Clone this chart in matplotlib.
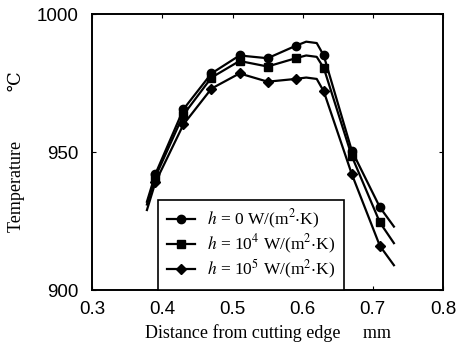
import matplotlib
matplotlib.use("Agg")
import matplotlib.pyplot as plt

plt.rcParams["mathtext.fontset"] = "stix"

# curve points (ends and peak included), marker subset below
x_line = [0.378, 0.39, 0.43, 0.47, 0.51, 0.55, 0.59, 0.605, 0.62, 0.63, 0.67, 0.71, 0.73]
temp_h0 = [932, 942, 965.5, 978.5, 985, 984, 988.5, 990, 989.5, 985, 950.5, 930, 923]
temp_h4 = [931, 941, 963.5, 977, 983, 981, 984, 985, 984.5, 980.5, 948.5, 924.5, 917]
temp_h5 = [929, 939, 960, 973, 978.5, 975.5, 976.5, 977, 976.5, 972, 942, 916, 909]
mark_idx = [1, 2, 3, 4, 5, 6, 9, 10, 11]

labels = [r"$h$ = 0 W/(m$^{2}$$\cdot$K)",
          r"$h$ = 10$^{4}$ W/(m$^{2}$$\cdot$K)",
          r"$h$ = 10$^{5}$ W/(m$^{2}$$\cdot$K)"]
markers = ["o", "s", "D"]
sizes = [6, 6, 5]

fig = plt.figure(figsize=(4.61, 3.52), dpi=100)
ax = fig.add_axes([0.2, 0.176, 0.761, 0.784])

for y, lab, m, s in zip([temp_h0, temp_h4, temp_h5], labels, markers, sizes):
    ax.plot(x_line, y, color="black", lw=1.6, marker=m, markersize=s,
            markevery=mark_idx, label=lab)

ax.set_xlim(0.3, 0.8)
ax.set_ylim(900, 1000)
ax.set_xticks([0.3, 0.4, 0.5, 0.6, 0.7, 0.8])
ax.set_yticks([900, 950, 1000])
ax.tick_params(direction="in", top=True, right=True, length=3, labelsize=13.5)
ax.tick_params(axis="x", pad=8)
ax.tick_params(axis="y", pad=10)
for lab in ax.get_xticklabels() + ax.get_yticklabels():
    lab.set_family("Liberation Sans")
for sp in ax.spines.values():
    sp.set_linewidth(1.4)

ax.set_xlabel("Distance from cutting edge     mm", family="Liberation Serif",
              fontsize=13, labelpad=4)
ax.set_ylabel("Temperature           \u2103", family=["Liberation Serif", "DejaVu Serif"],
              fontsize=13, labelpad=8)

leg = ax.legend(loc="lower left", bbox_to_anchor=(0.188, 0.0), fancybox=False,
                edgecolor="black", framealpha=1, handlelength=1.6,
                handletextpad=0.7, borderaxespad=0,
                prop={"family": "Liberation Serif", "size": 12.5},
                borderpad=0.5, labelspacing=0.1)
leg.get_frame().set_linewidth(1.2)

fig.savefig("out.png", dpi=100)
